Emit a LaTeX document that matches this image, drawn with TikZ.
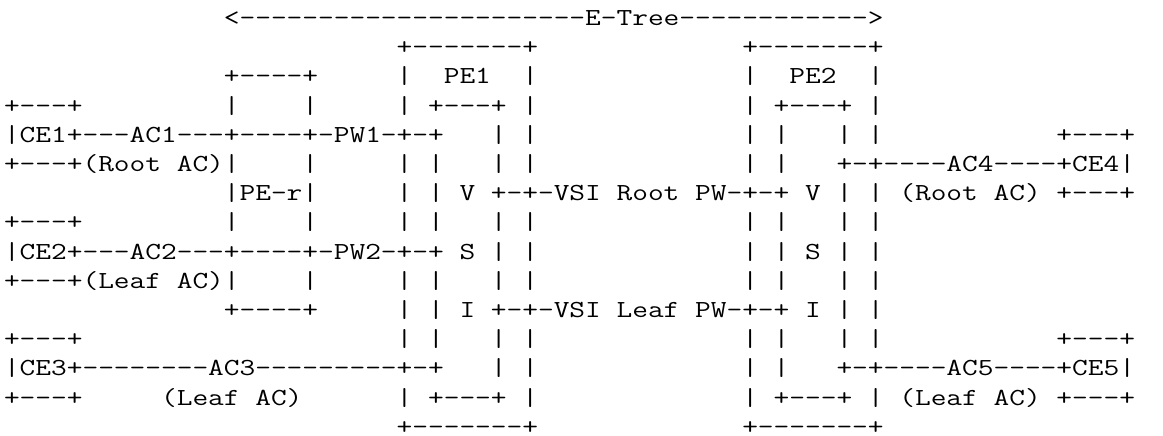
\documentclass[tikz,border=0pt]{standalone}
\usepackage{tikz}
\usetikzlibrary{positioning}
% blank columns and stretched typewriter rows
\newcommand\gap[1]{\hspace*{#1\fontcharwd\font`x}}
\newcommand\artline[1]{\scalebox{1.245}[1]{#1}}

\begin{document}
\begin{tikzpicture}[x=16.02pt,y=29.2pt,
   asciirow/.style={anchor=base west,inner sep=0pt,outer sep=0pt,yshift=-6.5pt,
                    text depth=0pt,font=\fontsize{24.5pt}{29pt}\selectfont\ttfamily}]
  \fill[white] (-0.25,0.651) rectangle (72.35,-14.281);
  \useasboundingbox (-0.25,0.651) rectangle (72.35,-14.281);

  % E-Tree span and PE boxes
  \node[asciirow] (l1)  at (0,0)   {\artline{\gap{14}<----------------------E-Tree------------>}};
  \node[asciirow] (l2)  at (0,-1)  {\artline{\gap{25}+-------+\gap{13}+-------+}};
  \node[asciirow] (l3)  at (0,-2)  {\artline{\gap{14}+----+\gap{5}|\gap{2}PE1\gap{2}|\gap{13}|\gap{2}PE2\gap{2}|}};
  \node[asciirow] (l4)  at (0,-3)  {\artline{+---+\gap{9}|\gap{4}|\gap{5}| +---+ |\gap{13}| +---+ |}};

  % CE1, PE-r, root PW
  \node[asciirow] (l5)  at (0,-4)  {\artline{|CE1+---AC1---+----+-PW1-+-+\gap{3}| |\gap{13}| |\gap{3}| |\gap{11}+---+}};
  \node[asciirow] (l6)  at (0,-5)  {\artline{+---+(Root AC)|\gap{4}|\gap{5}| |\gap{3}| |\gap{13}| |\gap{3}+-+----AC4----+CE4|}};
  \node[asciirow] (l7)  at (0,-6)  {\artline{\gap{14}|PE-r|\gap{5}| | V +-+-VSI Root PW-+-+ V | | (Root AC) +---+}};
  \node[asciirow] (l8)  at (0,-7)  {\artline{+---+\gap{9}|\gap{4}|\gap{5}| |\gap{3}| |\gap{13}| |\gap{3}| |}};

  % CE2, leaf PW
  \node[asciirow] (l9)  at (0,-8)  {\artline{|CE2+---AC2---+----+-PW2-+-+ S | |\gap{13}| | S | |}};
  \node[asciirow] (l10) at (0,-9)  {\artline{+---+(Leaf AC)|\gap{4}|\gap{5}| |\gap{3}| |\gap{13}| |\gap{3}| |}};
  \node[asciirow] (l11) at (0,-10) {\artline{\gap{14}+----+\gap{5}| | I +-+-VSI Leaf PW-+-+ I | |}};
  \node[asciirow] (l12) at (0,-11) {\artline{+---+\gap{20}| |\gap{3}| |\gap{13}| |\gap{3}| |\gap{11}+---+}};

  % CE3, CE5
  \node[asciirow] (l13) at (0,-12) {\artline{|CE3+--------AC3---------+-+\gap{3}| |\gap{13}| |\gap{3}+-+----AC5----+CE5|}};
  \node[asciirow] (l14) at (0,-13) {\artline{+---+\gap{5}(Leaf AC)\gap{6}| +---+ |\gap{13}| +---+ | (Leaf AC) +---+}};
  \node[asciirow] (l15) at (0,-14) {\artline{\gap{25}+-------+\gap{13}+-------+}};
\end{tikzpicture}
\end{document}
